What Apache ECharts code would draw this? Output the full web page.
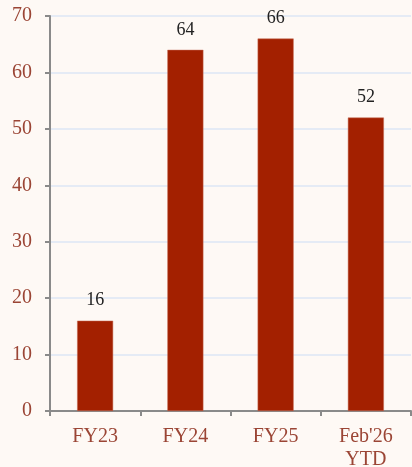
<!DOCTYPE html>
<html><head><meta charset="utf-8">
<script src="https://cdn.jsdelivr.net/npm/echarts@6/dist/echarts.min.js"></script>
<style>html,body{margin:0;padding:0;background:#FEF9F5;}#c{width:412px;height:467px;}</style>
</head><body><div id="c"></div>
<script>
const categories = ["FY23", "FY24", "FY25", "Feb'26\nYTD"];
const values = [16, 64, 66, 52];
const yTicks = [0, 10, 20, 30, 40, 50, 60, 70];
const chart = echarts.init(document.getElementById('c'));
chart.setOption({
  backgroundColor: '#FEF9F5',
  animation: false,
  grid: {left: 50, right: 1, top: 16, bottom: 56, containLabel: false, outerBoundsMode: 'none'},
  xAxis: {
    type: 'category', data: categories,
    axisLine: {lineStyle: {color: '#8a8a8a', width: 2}},
    axisTick: {show: true, length: 5, lineStyle: {color: '#8a8a8a', width: 2}},
    axisLabel: {color: '#9B4535', fontFamily: 'Liberation Serif', fontSize: 20, margin: 14, lineHeight: 23}
  },
  yAxis: {
    type: 'value', min: yTicks[0], max: yTicks[yTicks.length-1], interval: 10,
    axisLine: {show: true, lineStyle: {color: '#8a8a8a', width: 2}},
    axisTick: {show: true, length: 5, lineStyle: {color: '#8a8a8a', width: 2}},
    axisLabel: {color: '#9B4535', fontFamily: 'Liberation Serif', fontSize: 20, margin: 18},
    splitLine: {lineStyle: {color: '#DCE6F5', width: 1.5}}
  },
  series: [{
    type: 'bar', data: values, barWidth: 36,
    itemStyle: {color: '#A32000', borderColor: '#C46A55', borderWidth: 0.5},
    label: {show: true, position: 'top', distance: 11, color: '#222', fontFamily: 'Liberation Serif', fontSize: 18}
  }]
});
</script></body></html>
